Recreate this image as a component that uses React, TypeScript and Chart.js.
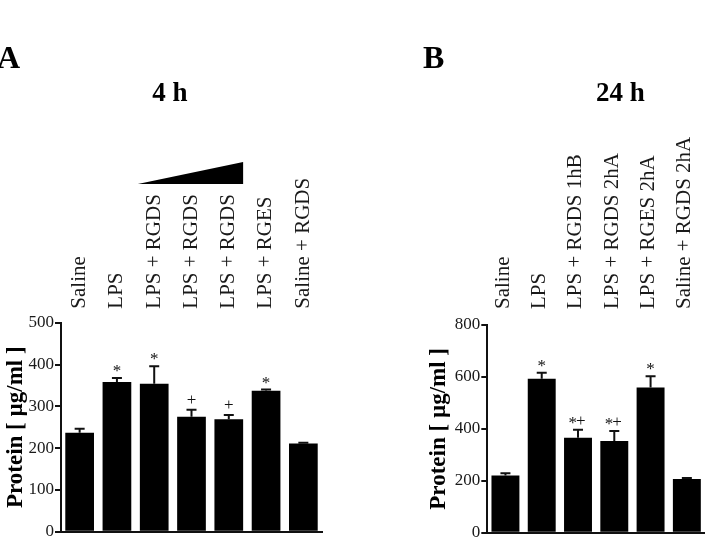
import React, { useEffect, useRef } from "react";
import { Chart, registerables } from "chart.js";

Chart.register(...registerables);

const SERIF = '"Liberation Serif", "Times New Roman", serif';

// Panel A: 4 h
const groups4h = ["Saline", "LPS", "LPS + RGDS", "LPS + RGDS", "LPS + RGDS", "LPS + RGES", "Saline + RGDS"];
const protein4h = [237, 358, 354, 275, 269, 337, 211];
const sem4h = [9, 10, 42, 17, 10, 3, 2];
const marks4h = ["", "*", "*", "+", "+", "*", ""];

// Panel B: 24 h
const groups24h = ["Saline", "LPS", "LPS + RGDS 1hB", "LPS + RGDS 2hA", "LPS + RGES 2hA", "Saline + RGDS 2hA"];
const protein24h = [220, 593, 366, 353, 559, 207];
const sem24h = [9, 23, 31, 39, 44, 4];
const marks24h = ["", "*", "*+", "*+", "*", ""];

const yMax4h = 500;
const yStep4h = 100;
const yMax24h = 800;
const yStep24h = 200;

const INK = "#111";

// draws a significance mark; in a combined mark the "+" sits level with the "*"
function drawMark(ctx: CanvasRenderingContext2D, mark: string, cx: number, top: number) {
  ctx.font = `17px ${SERIF}`;
  ctx.textBaseline = "alphabetic";
  if (mark.length === 1) {
    ctx.textAlign = "center";
    ctx.fillText(mark, cx, top - (mark === "+" ? 5 : 2));
    return;
  }
  const widths = Array.from(mark).map((c) => ctx.measureText(c).width);
  const total = widths.reduce((a, b) => a + b, 0) - 1;
  let x = cx - total / 2 - 1;
  ctx.textAlign = "left";
  Array.from(mark).forEach((c, k) => {
    const lift = c === "+" ? 4 : 2;
    ctx.fillText(c, x, top - lift);
    x += widths[k] - 1;
  });
}

// error bars, significance marks, panel letter, title and dose wedge
const overlay = {
  id: "overlay",
  afterDatasetsDraw(chart: any, _args: any, opts: any) {
    const { ctx } = chart;
    const y = chart.scales.y;
    const meta = chart.getDatasetMeta(0);
    ctx.save();
    ctx.strokeStyle = INK;
    ctx.fillStyle = INK;
    ctx.lineWidth = 2;
    meta.data.forEach((bar: any, i: number) => {
      const v = chart.data.datasets[0].data[i] as number;
      const top = y.getPixelForValue(v + opts.sem[i]);
      ctx.beginPath();
      ctx.moveTo(bar.x, bar.y);
      ctx.lineTo(bar.x, top);
      ctx.moveTo(bar.x - 5, top);
      ctx.lineTo(bar.x + 5, top);
      ctx.stroke();
      const m = opts.marks[i];
      if (m) drawMark(ctx, m, bar.x, top);
    });
    ctx.restore();
  },
  afterDraw(chart: any, _args: any, opts: any) {
    const { ctx } = chart;
    ctx.save();
    ctx.fillStyle = "#000";
    ctx.textBaseline = "alphabetic";
    ctx.textAlign = "left";
    ctx.font = `bold 32px ${SERIF}`;
    ctx.fillText(opts.letter, opts.letterX, 68);
    ctx.textAlign = "center";
    ctx.font = `bold 27px ${SERIF}`;
    ctx.fillText(opts.title, opts.titleX, 101);
    if (opts.wedge) {
      const meta = chart.getDatasetMeta(0);
      const first = meta.data[opts.wedge[0]];
      const last = meta.data[opts.wedge[1]];
      const x0 = first.x - first.width / 2 - 2;
      const x1 = last.x + last.width / 2;
      ctx.beginPath();
      ctx.moveTo(x0, 184);
      ctx.lineTo(x1, 184);
      ctx.lineTo(x1, 162);
      ctx.closePath();
      ctx.fill();
    }
    ctx.restore();
  },
};

type PanelProps = {
  labels: string[];
  values: number[];
  sem: number[];
  marks: string[];
  yMax: number;
  yStep: number;
  left: number;
  width: number;
  plotLeft: number;
  plotRight: number;
  plotTop: number;
  plotBottom: number;
  labelShift: number;
  labelGap: number;
  letter: string;
  letterX: number;
  title: string;
  titleX: number;
  wedge?: [number, number];
};

const HEIGHT = 557;

function Panel(p: PanelProps) {
  const ref = useRef<HTMLCanvasElement>(null);
  useEffect(() => {
    const chart = new Chart(ref.current as HTMLCanvasElement, {
      type: "bar",
      data: {
        labels: p.labels,
        datasets: [
          {
            data: p.values,
            backgroundColor: "#000",
            borderWidth: 0,
            barPercentage: 0.77,
            categoryPercentage: 1,
            xAxisID: "x",
            yAxisID: "y",
          },
        ],
      },
      options: {
        responsive: false,
        animation: false,
        devicePixelRatio: 1,
        layout: {
          padding: {
            left: 0,
            top: 0,
            right: p.width - p.plotRight,
            bottom: HEIGHT - p.plotBottom,
          },
        },
        plugins: {
          legend: { display: false },
          tooltip: { enabled: false },
          overlay: {
            sem: p.sem,
            marks: p.marks,
            letter: p.letter,
            letterX: p.letterX,
            title: p.title,
            titleX: p.titleX,
            wedge: p.wedge,
          },
        } as any,
        scales: {
          x: {
            type: "category",
            position: "bottom",
            offset: true,
            grid: { display: false },
            ticks: { display: false },
            border: { display: true, color: INK, width: 2 },
            afterFit: (s: any) => {
              s.height = 0;
            },
          },
          xTop: {
            type: "category",
            position: "top",
            offset: true,
            grid: { display: false },
            border: { display: false },
            ticks: {
              autoSkip: false,
              minRotation: 90,
              maxRotation: 90,
              padding: p.labelGap,
              labelOffset: p.labelShift,
              color: "#1a1a1a",
              font: { family: SERIF, size: 21 },
            },
            afterFit: (s: any) => {
              s.height = p.plotTop;
            },
          },
          y: {
            min: 0,
            max: p.yMax,
            ticks: {
              stepSize: p.yStep,
              padding: 1,
              color: "#1a1a1a",
              font: { family: SERIF, size: 17 },
            },
            grid: {
              display: true,
              drawOnChartArea: false,
              drawTicks: true,
              tickLength: 6,
              color: INK,
              lineWidth: 2,
            },
            border: { display: true, color: INK, width: 2 },
            title: {
              display: true,
              text: "Protein [ µg/ml ]",
              color: "#000",
              font: { family: SERIF, size: 23, weight: "bold" },
              padding: { top: 2, bottom: 0 },
            },
            afterFit: (s: any) => {
              s.width = p.plotLeft;
            },
          },
        } as any,
      },
      plugins: [overlay],
    });
    return () => chart.destroy();
  }, []);
  return (
    <canvas
      ref={ref}
      width={p.width}
      height={HEIGHT}
      style={{ position: "absolute", left: p.left, top: 0, width: p.width, height: HEIGHT }}
    />
  );
}

export default function App() {
  return (
    <div
      style={{
        position: "fixed",
        left: 0,
        top: 0,
        width: 705,
        height: HEIGHT,
        background: "#fff",
        overflow: "hidden",
      }}
    >
      <Panel
        labels={groups4h}
        values={protein4h}
        sem={sem4h}
        marks={marks4h}
        yMax={yMax4h}
        yStep={yStep4h}
        left={0}
        width={352}
        plotLeft={61}
        plotRight={322}
        plotTop={322.7}
        plotBottom={531.7}
        labelShift={25}
        labelGap={6}
        letter="A"
        letterX={-3}
        title="4 h"
        titleX={170}
        wedge={[2, 4]}
      />
      <Panel
        labels={groups24h}
        values={protein24h}
        sem={sem24h}
        marks={marks24h}
        yMax={yMax24h}
        yStep={yStep24h}
        left={423}
        width={282}
        plotLeft={64.3}
        plotRight={282}
        plotTop={325}
        plotBottom={532.7}
        labelShift={23}
        labelGap={8}
        letter="B"
        letterX={0}
        title="24 h"
        titleX={197.5}
      />
    </div>
  );
}
